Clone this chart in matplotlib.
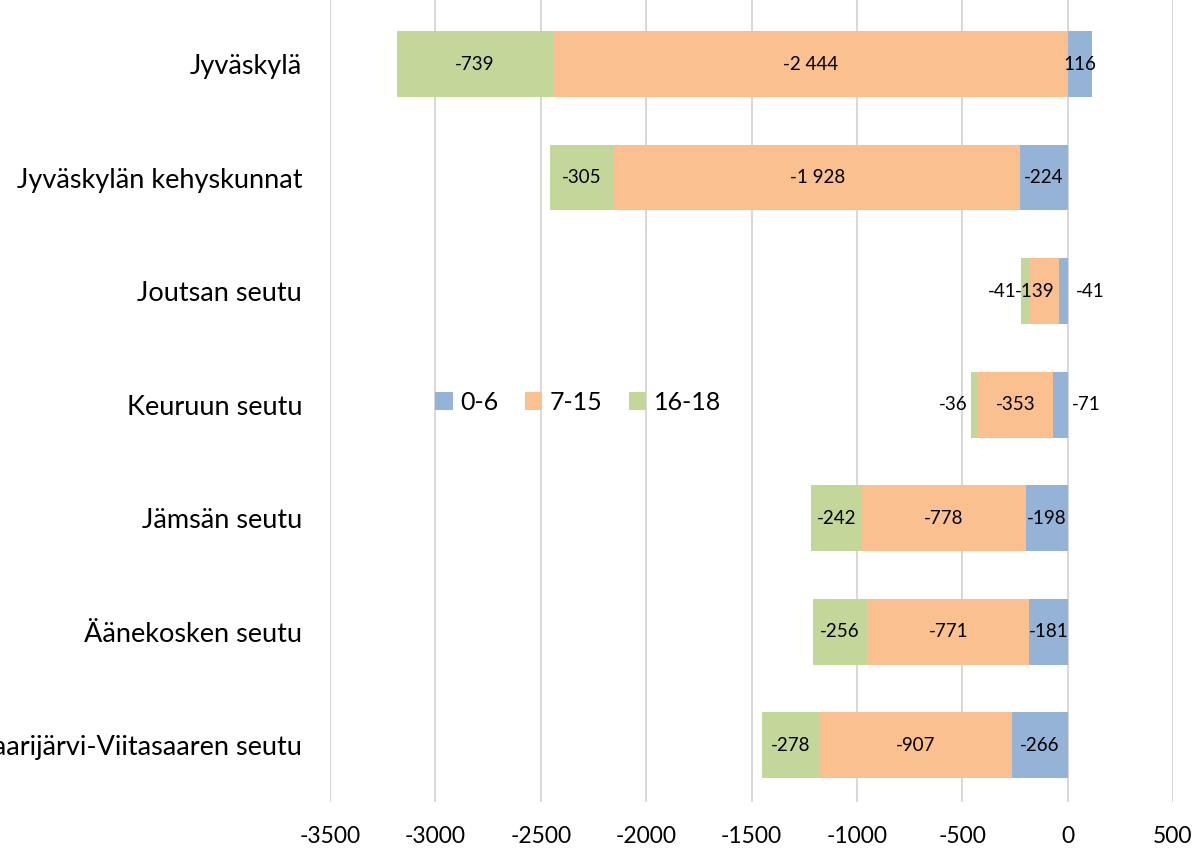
import matplotlib
matplotlib.use("Agg")
import matplotlib.pyplot as plt
from matplotlib.ticker import FixedLocator, FuncFormatter
import numpy as np

plt.rcParams['font.family'] = ['Lato', 'DejaVu Sans']

categories = ["Jyväskylä", "Jyväskylän kehyskunnat", "Joutsan seutu", "Keuruun seutu",
              "Jämsän seutu", "Äänekosken seutu", "Saarijärvi-Viitasaaren seutu"]
series_names = ["0-6", "7-15", "16-18"]
age_0_6 = [116, -224, -41, -71, -198, -181, -266]
age_7_15 = [-2444, -1928, -139, -353, -778, -771, -907]
age_16_18 = [-739, -305, -41, -36, -242, -256, -278]
tick_values = [-3500, -3000, -2500, -2000, -1500, -1000, -500, 0, 500]

colors = ["#95B3D7", "#FAC090", "#C4D79B"]

fig = plt.figure(figsize=(11.96, 8.51), dpi=100)
ax = fig.add_axes([330/1196, 1-802/851, (1173-330)/1196, 802/851])

y = np.arange(len(categories))
series = [age_0_6, age_7_15, age_16_18]
neg_base = np.zeros(len(categories))
pos_base = np.zeros(len(categories))
bars = []
for vals, col, name in zip(series, colors, series_names):
    vals = np.array(vals, dtype=float)
    left = np.where(vals >= 0, pos_base, neg_base)
    ax.barh(y, vals, left=left, height=0.58, color=col, label=name, zorder=3)
    bars.append((vals, left))
    pos_base = np.where(vals >= 0, pos_base + vals, pos_base)
    neg_base = np.where(vals < 0, neg_base + vals, neg_base)

def fmt_num(v):
    s = f"{abs(int(v)):,}".replace(",", " ")
    return ("-" if v < 0 else "") + s

# label placement overrides (series index, category index) -> (ha, offset px)
placement = {(2, 2): ("right", -4), (1, 2): ("center", -10), (0, 2): ("left", 8),
             (2, 3): ("right", -3), (0, 3): ("left", 4)}
for si, (vals, left) in enumerate(bars):
    for ci in range(len(categories)):
        v = vals[ci]
        l = left[ci]
        lo, hi = min(l, l + v), max(l, l + v)
        mode = placement.get((si, ci), ("center", 0))
        if mode[0] == "right":
            x = lo
        elif mode[0] == "left":
            x = hi
        else:
            x = (lo + hi) / 2
        ax.annotate(fmt_num(v), (x, ci), xytext=(mode[1], 0), textcoords="offset pixels",
                    ha=mode[0], va="center", fontsize=13.5, color="#000000", zorder=4)

ax.set_xlim(tick_values[0], tick_values[-1])
ax.xaxis.set_major_locator(FixedLocator(tick_values))
ax.xaxis.set_major_formatter(FuncFormatter(lambda v, p: f"{int(round(v))}"))
ax.set_ylim(len(categories) - 0.5, -0.5 - 7.25/113.5)
ax.set_yticks(y)
ax.set_yticklabels(categories, fontsize=19.5)
ax.tick_params(axis='y', length=0, pad=20)
ax.tick_params(axis='x', length=0, pad=17, labelsize=16.5)
for s in ax.spines.values():
    s.set_visible(False)
ax.grid(axis='x', color="#D9D9D9", linewidth=1.5, zorder=0)
ax.set_axisbelow(True)

leg = ax.legend(loc="center", bbox_to_anchor=(578/1196, 1-402/851),
                bbox_transform=fig.transFigure, ncol=3, frameon=False, fontsize=18,
                handlelength=0.7, handleheight=0.7, handletextpad=0.3, columnspacing=1.05)

fig.savefig("out.png", dpi=100)
